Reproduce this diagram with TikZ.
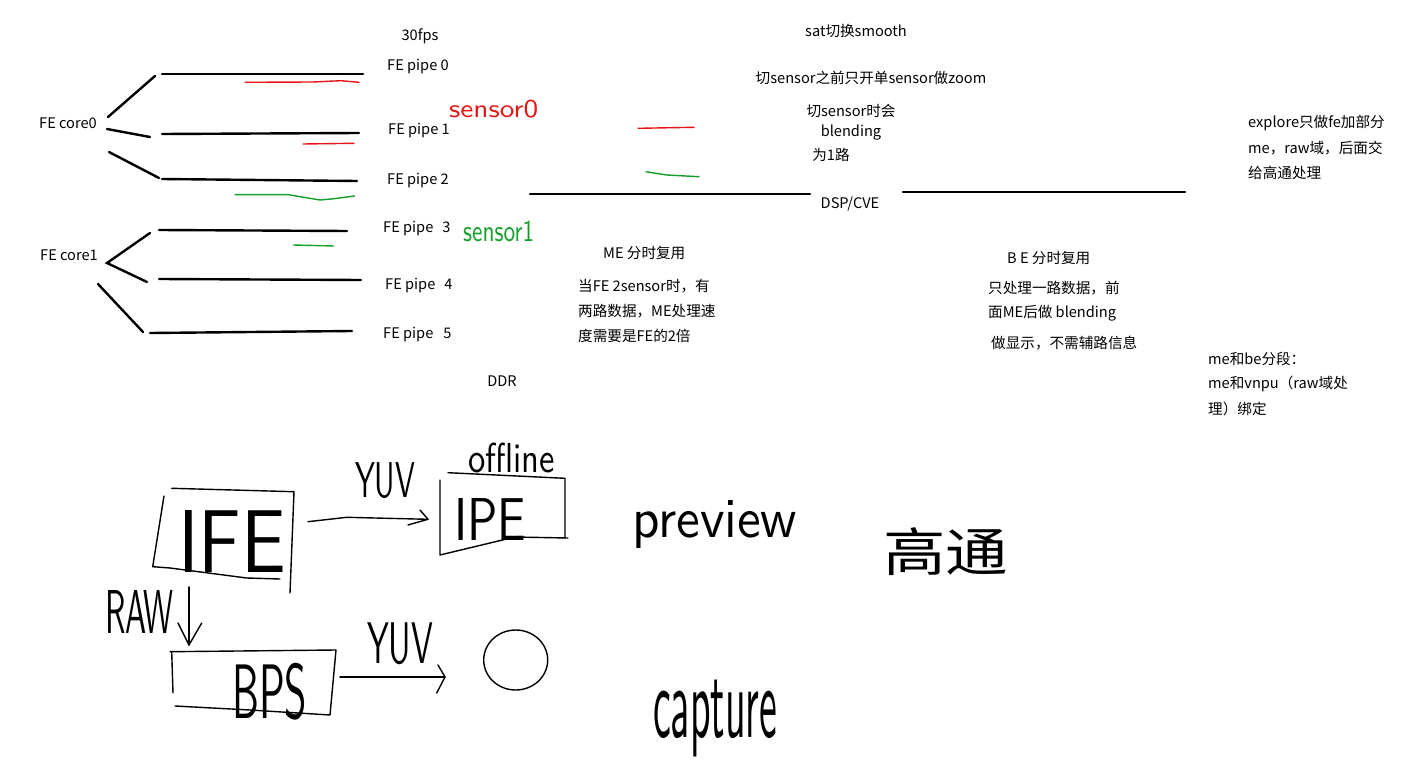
\documentclass[tikz,border=0pt]{standalone}
\usepackage{fontspec}
\setmainfont{Noto Sans CJK SC}
\usepackage{graphicx}
\definecolor{penred}{RGB}{230,20,20}
\definecolor{pengreen}{RGB}{20,160,40}
\begin{document}
\begin{tikzpicture}[x=1pt,y=-1pt,
  txt/.style={inner sep=0pt, anchor=west, font=\fontsize{14.6}{17}\selectfont},
  ctxt/.style={inner sep=0pt, font=\fontsize{14.6}{17}\selectfont},
  bar/.style={line width=2.4pt, line cap=round},
  pen/.style={line width=1.4pt, line cap=round, line join=round},
  hand/.style={inner sep=0pt, anchor=north west, font=\sffamily}]
\useasboundingbox[fill=white] (0,0) rectangle (1411,770);

% ---------- top-left: FE cores and pipes ----------
\node[ctxt] (fps) at (420,36) {30fps};
\node[txt] (p0) at (387,67) {FE pipe 0};
\node[txt] (p1) at (388,131) {FE pipe 1};
\node[txt] (p2) at (387,181) {FE pipe 2};
\node[txt] (p3) at (383,229) {FE pipe\hspace{9pt}3};
\node[txt] (p4) at (385,286) {FE pipe\hspace{9pt}4};
\node[txt] (p5) at (383,335) {FE pipe\hspace{10pt}5};
\node[txt] (c0) at (39,123) {FE core0};
\node[txt] (c1) at (40,255) {FE core1};

\draw[bar] (162,74) -- (363,74);
\draw[bar] (162,134) -- (359,133);
\draw[bar] (162,179) -- (357,181);
\draw[bar] (159,230) -- (347,231);
\draw[bar] (159,279) -- (361,280);
\draw[bar] (150,333) -- (352,331);

\draw[bar] (108,117) -- (155,76);
\draw[bar] (107,129) -- (150,137);
\draw[bar] (109,152) -- (159,178);
\draw[bar] (150,233) -- (107,263) -- (147,282);
\draw[bar] (98,284) -- (143,332);

% red / green marks
\draw[pen, penred] (245,82.3) -- (313,82) -- (341,80.7) -- (359,82.3);
\draw[pen, penred] (303,144) -- (354,143.3);
\draw[pen, pengreen] (235,194.7) -- (288,194.7) -- (320,200) -- (334,198.7) -- (354.6,196);
\draw[pen, pengreen] (293.6,245) -- (333.6,246);
\draw[pen, penred] (638,128.3) -- (694,127.3);
\draw[pen, pengreen] (646,171.7) -- (666.7,175) -- (699,176.7);

\node[hand, text=penred] (s0) at (449,100) {\resizebox*{89pt}{18pt}{sensor0}};
\node[hand, text=pengreen] (s1) at (463,221) {\resizebox*{71pt}{21pt}{sensor1}};

\node[ctxt] (ddr) at (502,381) {DDR};

% ---------- middle ----------
\node[ctxt] (sat) at (856,31) {sat切换smooth};
\node[ctxt] (zoom) at (871,78) {切sensor之前只开单sensor做zoom};
\node[ctxt] (qs) at (851,111) {切sensor时会};
\node[ctxt] (bl) at (851,133) {blending};
\node[ctxt] (w1) at (831,155) {为1路};
\node[ctxt] (dsp) at (850,204) {DSP/CVE};
\draw[bar] (530,194) -- (810,194);
\draw[bar] (903,192) -- (1185,192);

\node[txt] (me) at (603,253) {ME 分时复用};
\node[txt] (me1) at (578,286) {当FE 2sensor时，有};
\node[txt] (me2) at (578,311) {两路数据，ME处理速};
\node[txt] (me3) at (578,336) {度需要是FE的2倍};

\node[txt] (be) at (1007,258) {B E 分时复用};
\node[txt] (be1) at (988,288) {只处理一路数据，前};
\node[txt] (be2) at (988,313) {面ME后做 blending};
\node[txt] (be3) at (991,343) {做显示，不需辅路信息};

\node[txt] (ex1) at (1248,123) {explore只做fe加部分};
\node[txt] (ex2) at (1248,148) {me，raw域，后面交};
\node[txt] (ex3) at (1248,173) {给高通处理};

\node[txt] (mb1) at (1208,359) {me和be分段：};
\node[txt] (mb2) at (1208,384) {me和vnpu（raw域处};
\node[txt] (mb3) at (1208,409) {理）绑定};

% ---------- bottom sketch ----------
% IFE box
\draw[pen] (171.7,488.3) -- (294,491.7) -- (290,593);
\draw[pen] (164,496) -- (152.7,566.7) -- (170,568) -- (246.7,578) -- (280,579);
\node[hand] (ife) at (178,510) {\resizebox*{108pt}{62pt}{IFE}};

% IPE box
\draw[pen] (448,472.7) -- (565,478.3) -- (565,538);
\draw[pen] (440,480) -- (440,555) -- (515,537) -- (568,538);
\node[hand] (ipe) at (454,498) {\resizebox*{72pt}{42pt}{IPE}};
\node[hand] (off) at (468,443) {\resizebox*{87pt}{30pt}{offline}};

% IFE -> IPE arrow
\coordinate (a1s) at (308,521.7);
\coordinate (a1e) at (428,519.3);
\draw[pen] (a1s) -- (346.7,517.3) -- (a1e);
\draw[pen] (420,510) -- (a1e) -- (408,525);
\node[hand] (yuv1) at (355,462) {\resizebox*{60pt}{36pt}{YUV}};

% IFE -> BPS arrow
\coordinate (a2s) at (189,587);
\coordinate (a2e) at (189,645);
\draw[pen] (a2s) -- (a2e);
\draw[pen] (178,623) -- (a2e) -- (201.7,623);
\node[hand] (raw) at (105,590) {\resizebox*{68pt}{43pt}{RAW}};

% BPS box
\draw[pen] (171.7,651.7) -- (173,693);
\draw[pen] (170,651.7) -- (336,650) -- (330,715) -- (250,710) -- (175,706);
\node[hand] (bps) at (232,663) {\resizebox*{75pt}{57pt}{BPS}};

% BPS -> circle arrow
\coordinate (a3s) at (340,677);
\coordinate (a3e) at (445,677);
\draw[pen] (a3s) -- (a3e);
\draw[pen] (438,665) -- (a3e) -- (436.7,693);
\node[hand] (yuv2) at (367,623) {\resizebox*{66pt}{42pt}{YUV}};

\draw[pen] (515.7,660) ellipse [x radius=32, y radius=30];

\node[hand] (prev) at (632,500) {\resizebox*{165pt}{48pt}{preview}};
\node[hand, font=\rmfamily] (gt) at (883,527) {\resizebox*{125pt}{48pt}{高通}};
\node[hand] (cap) at (653,680) {\resizebox*{124pt}{77pt}{capture}};
\end{tikzpicture}
\end{document}
